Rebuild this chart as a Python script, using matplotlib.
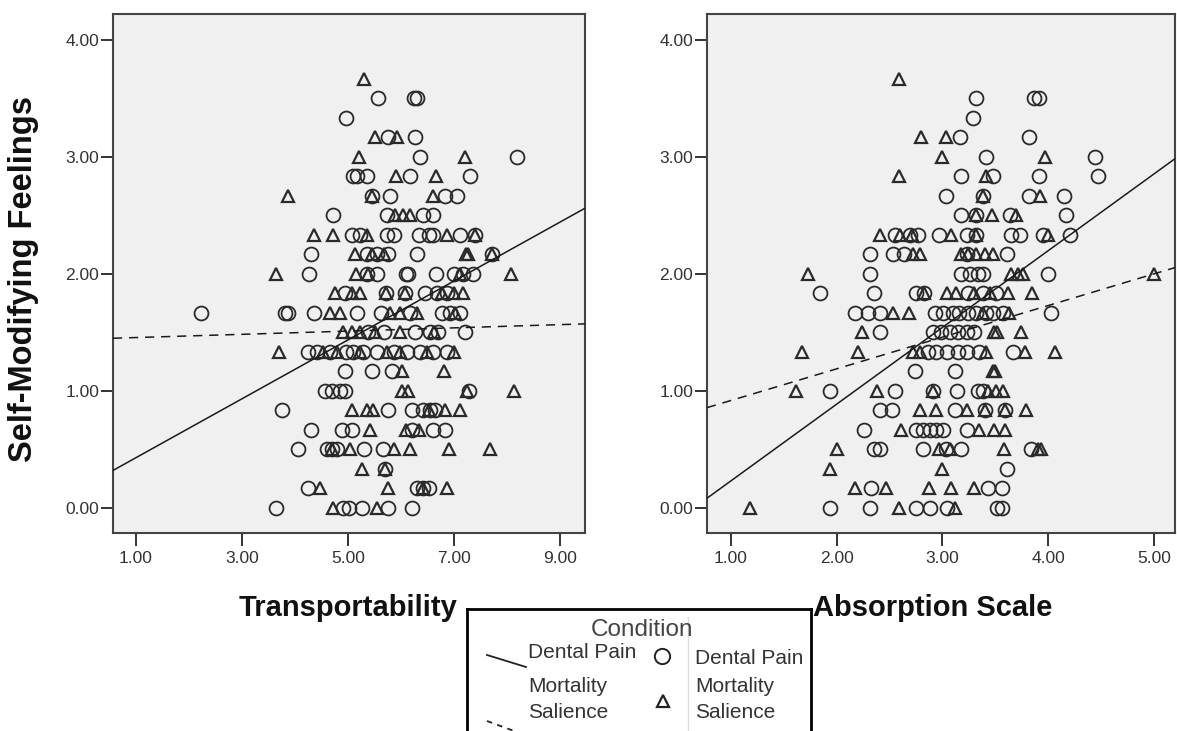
import numpy as np
import matplotlib
matplotlib.use("Agg")
import matplotlib.pyplot as plt
from matplotlib.lines import Line2D

plt.rcParams['font.family'] = ['Liberation Sans', 'DejaVu Sans']

# y values come in steps of 1/6; each row is (step, [x values])
left_dental = [
    (21, [5.56, 6.25, 6.30]), (20, [4.96]), (19, [5.76, 6.26]), (18, [6.36, 8.19]),
    (17, [5.10, 5.16, 5.35, 6.17, 7.30]), (16, [5.45, 5.79, 6.83, 7.05]),
    (15, [4.71, 5.73, 6.42, 6.61]),
    (14, [5.07, 5.23, 5.73, 5.86, 6.33, 6.52, 6.61, 7.11, 7.40]),
    (13, [4.30, 5.35, 5.54, 5.76, 6.31, 7.71]),
    (12, [4.27, 5.35, 5.54, 6.10, 6.14, 6.66, 6.99, 7.17, 7.36]),
    (11, [4.94, 5.71, 6.08, 6.45, 6.67, 6.86]),
    (10, [2.23, 3.81, 3.87, 4.36, 5.16, 5.63, 6.17, 6.77, 6.92, 7.11]),
    (9, [5.38, 5.67, 6.26, 6.55, 6.70, 7.21]),
    (8, [4.25, 4.41, 4.66, 4.97, 5.10, 5.29, 5.54, 5.86, 6.11, 6.36, 6.61, 6.86]),
    (7, [4.94, 5.45, 5.82]), (6, [4.57, 4.69, 4.85, 4.94, 7.28]),
    (5, [3.75, 5.76, 6.20, 6.42, 6.55, 6.64]),
    (4, [4.30, 4.88, 5.07, 6.20, 6.61, 6.83]),
    (3, [4.05, 4.60, 4.69, 4.79, 5.31, 5.65]), (2, [5.70]),
    (1, [4.25, 6.30, 6.42, 6.52]), (0, [3.65, 4.91, 5.01, 5.26, 5.76, 6.20]),
]
left_mortality = [
    (22, [5.30]), (19, [5.50, 5.92]), (18, [5.21, 7.21]), (17, [5.91, 6.66]),
    (16, [3.87, 5.45, 6.61]), (15, [5.89, 6.04, 6.17]),
    (14, [4.36, 4.72, 5.35, 6.86, 7.40]), (13, [5.13, 5.45, 5.67, 7.22, 7.26, 7.71]),
    (12, [3.65, 5.15, 5.38, 7.11, 8.08]),
    (11, [4.75, 5.07, 5.23, 5.71, 6.08, 6.77, 6.99, 7.17]),
    (10, [4.66, 4.85, 5.79, 5.98, 6.30, 7.02]), (9, [4.91, 5.07, 5.23, 5.50, 5.98, 6.62]),
    (8, [3.70, 4.53, 4.79, 5.23, 5.73, 5.98, 6.48, 6.99]), (7, [6.01, 6.81]),
    (6, [6.01, 6.14, 7.24, 8.13]), (5, [5.07, 5.35, 5.48, 6.52, 6.83, 7.11]),
    (4, [5.42, 6.09, 6.33]), (3, [4.69, 5.04, 5.86, 6.17, 6.91, 7.67]),
    (2, [5.26, 5.70]), (1, [4.47, 5.76, 6.42, 6.86]), (0, [4.72, 5.54]),
]
right_dental = [
    (21, [3.32, 3.87, 3.91]), (20, [3.29]), (19, [3.17, 3.82]), (18, [3.41, 4.44]),
    (17, [3.18, 3.48, 3.91, 4.47]), (16, [3.03, 3.38, 3.82, 4.15]),
    (15, [3.18, 3.32, 3.64, 4.17]),
    (14, [2.55, 2.69, 2.77, 2.97, 3.23, 3.32, 3.65, 3.73, 3.95, 4.21]),
    (13, [2.32, 2.53, 2.64, 3.23, 3.61]), (12, [2.32, 3.18, 3.26, 3.34, 3.38, 4.00]),
    (11, [1.84, 2.35, 2.75, 2.83, 3.24, 3.38, 3.51]),
    (10, [2.17, 2.30, 2.41, 2.93, 3.01, 3.10, 3.16, 3.24, 3.32, 3.41, 3.48, 3.57, 4.03]),
    (9, [2.41, 2.91, 2.99, 3.07, 3.15, 3.23, 3.30]),
    (8, [2.86, 2.94, 3.04, 3.15, 3.23, 3.35, 3.67]), (7, [2.74, 3.12]),
    (6, [1.94, 2.55, 2.91, 3.14, 3.34, 3.38]), (5, [2.41, 2.52, 3.12, 3.40, 3.59]),
    (4, [2.26, 2.75, 2.82, 2.88, 2.94, 3.01, 3.23]),
    (3, [2.35, 2.41, 2.82, 3.03, 3.18, 3.84]), (2, [3.61]), (1, [2.33, 3.43, 3.56]),
    (0, [1.94, 2.32, 2.75, 2.88, 3.04, 3.52, 3.56]),
]
right_mortality = [
    (22, [2.59]), (19, [2.80, 3.03]), (18, [3.00, 3.97]), (17, [2.59, 3.41]),
    (16, [3.38, 3.92]), (15, [3.32, 3.47, 3.70]), (14, [2.41, 2.60, 2.71, 3.08, 3.32, 4.00]),
    (13, [2.72, 2.79, 3.18, 3.24, 3.32, 3.40, 3.48]), (12, [1.73, 3.65, 3.71, 3.76, 5.00]),
    (11, [2.83, 3.04, 3.13, 3.30, 3.45, 3.62, 3.85]), (10, [2.53, 2.68, 3.38, 3.63]),
    (9, [2.24, 3.49, 3.52, 3.74]), (8, [1.67, 2.20, 2.72, 2.79, 3.41, 3.78, 4.06]),
    (7, [3.48, 3.50]), (6, [1.62, 2.38, 2.91, 3.43, 3.51, 3.57]),
    (5, [2.79, 2.94, 3.23, 3.40, 3.59, 3.79]), (4, [2.61, 3.35, 3.49, 3.59]),
    (3, [2.00, 2.97, 3.07, 3.58, 3.90, 3.93]), (2, [1.94, 3.00]),
    (1, [2.17, 2.47, 2.87, 3.08, 3.30]), (0, [1.18, 2.59, 3.12]),
]

# fit lines: (intercept, slope)
left_fit_dental = (0.178, 0.2516)
left_fit_mortality = (1.442, 0.0138)
right_fit_dental = (-0.426, 0.656)
right_fit_mortality = (0.647, 0.2706)

x_titles = ['Transportability', 'Absorption Scale']
y_title = 'Self-Modifying Feelings'
left_xticks = [1, 3, 5, 7, 9]
right_xticks = [1, 2, 3, 4, 5]
yticks = [0, 1, 2, 3, 4]

W, H = 1177, 731
INK = '#2a2a2a'


def unpack(rows):
    xs, ys = [], []
    for k, vals in rows:
        for v in vals:
            xs.append(v)
            ys.append(k / 6)
    return np.array(xs), np.array(ys)


def fx(px):
    return px / W


def fy(py):
    return 1 - py / H


fig = plt.figure(figsize=(W / 100, H / 100), dpi=100)
ax1 = fig.add_axes([fx(113), fy(533), (585 - 113) / W, (533 - 14) / H])
ax2 = fig.add_axes([fx(707), fy(533), (1175 - 707) / W, (533 - 14) / H])

panels = [
    (ax1, left_dental, left_mortality, left_fit_dental, left_fit_mortality,
     (0.566, 9.47), left_xticks, x_titles[0], 0.497),
    (ax2, right_dental, right_mortality, right_fit_dental, right_fit_mortality,
     (0.776, 5.198), right_xticks, x_titles[1], 0.483),
]

for ax, dent, mort, fd, fm, xlim, xt, xtitle, lx in panels:
    ax.set_facecolor('#f0f0f0')
    x, y = unpack(dent)
    ax.plot(x, y, 'o', ms=10, mfc='none', mec=INK, mew=1.3, zorder=3)
    x, y = unpack(mort)
    ax.plot(x, y, '^', ms=8.5, mfc='none', mec=INK, mew=1.6, zorder=3)
    xx = np.array(xlim)
    ax.plot(xx, fd[0] + fd[1] * xx, '-', color='#1a1a1a', lw=1.1, zorder=4)
    ax.plot(xx, fm[0] + fm[1] * xx, '--', color='#1a1a1a', lw=1.1,
            dashes=(6, 4.5), zorder=4)
    ax.set_xlim(xlim)
    ax.set_ylim(-0.214, 4.22)
    ax.set_xticks(xt)
    ax.set_xticklabels(['%.2f' % v for v in xt])
    ax.set_yticks(yticks)
    ax.set_yticklabels(['%.2f' % v for v in yticks])
    ax.tick_params(direction='out', length=9, width=1.4, color='#333333',
                   labelsize=12.5, labelcolor='#333333')
    ax.tick_params(axis='x', pad=4)
    ax.tick_params(axis='y', pad=1)
    for s in ax.spines.values():
        s.set_color('#444444')
        s.set_linewidth(1.5)
    ax.set_xlabel(xtitle, fontsize=21, fontweight='bold', color='#111111')
    ax.xaxis.set_label_coords(lx, -0.145)
    ax.xaxis.label.set_va('center')

ax1.set_ylabel(y_title, fontsize=23.5, fontweight='bold', color='#111111')
ax1.yaxis.set_label_coords(-0.19, 0.49)
ax1.yaxis.label.set_va('center')

# legend box, cut off at the bottom like the original
lg = fig.add_axes([fx(467), -0.05, (811 - 467) / W, fy(609) + 0.05])
lg.set_xticks([])
lg.set_yticks([])
lg.set_facecolor('white')
for s in lg.spines.values():
    s.set_color('black')
    s.set_linewidth(2)

fig.text(fx(642), fy(630), 'Condition', ha='center', va='center',
         fontsize=17.5, color='#444444')
fig.add_artist(Line2D([fx(487), fx(526)], [fy(655), fy(667)], color='#222222', lw=1.3))
fig.add_artist(Line2D([fx(487), fx(514)], [fy(721), fy(731)], color='#222222',
                      lw=1.3, ls='--', dashes=(3, 3)))
fig.add_artist(Line2D([fx(688), fx(688)], [fy(617), fy(731)], color='#dddddd', lw=1))
fig.add_artist(Line2D([fx(662)], [fy(656)], marker='o', ms=11, mfc='none',
                      mec='#222222', mew=1.4))
fig.add_artist(Line2D([fx(663)], [fy(701)], marker='^', ms=8.5, mfc='none',
                      mec='#222222', mew=1.6))
for px, py, txt in [(528, 653, 'Dental Pain'), (528, 687, 'Mortality'),
                    (528, 712, 'Salience'), (695, 658, 'Dental Pain'),
                    (695, 687, 'Mortality'), (695, 713, 'Salience')]:
    fig.text(fx(px), fy(py), txt, ha='left', va='center', fontsize=15,
             color='#333333')

fig.savefig('out.png', dpi=100)
